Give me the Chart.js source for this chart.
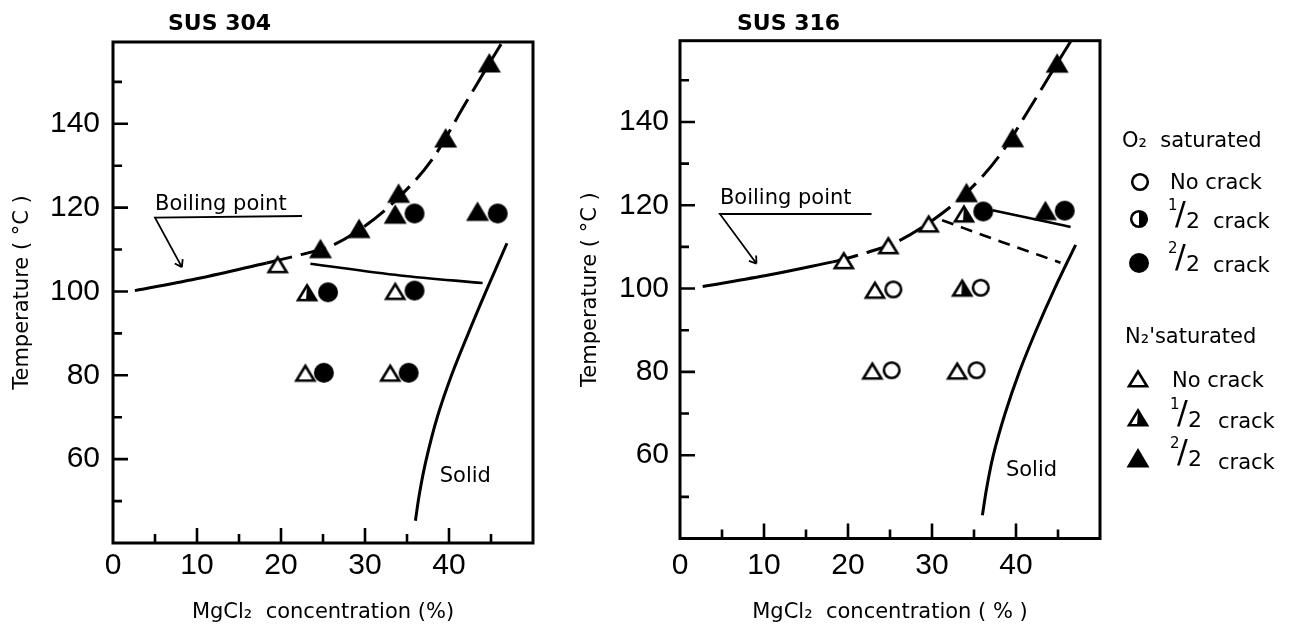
<!DOCTYPE html>
<html>
<head>
<meta charset="utf-8">
<script src="https://cdn.jsdelivr.net/npm/chart.js@4/dist/chart.umd.min.js"></script>
<style>
html, body { margin: 0; padding: 0; background: #fff; }
body { width: 1299px; height: 626px; position: relative; overflow: hidden; font-family: "DejaVu Sans", sans-serif; color: #000; }
#c304 { position: absolute; left: 0; top: 0; }
#c316 { position: absolute; left: 570px; top: 0; }
.lg { position: absolute; font-size: 21px; line-height: 1; white-space: nowrap; transform: translateY(-50%); }
.frac { position: absolute; width: 34px; height: 32px; }
.frac span { position: absolute; line-height: 1; }
</style>
</head>
<body>
<canvas id="c304" width="560" height="626"></canvas>
<canvas id="c316" width="560" height="626"></canvas>
<div id="legend"></div>
<script>
// axis ticks
var xTickLabels = [0, 10, 20, 30, 40];
var yTickLabels = [60, 80, 100, 120, 140];
var xMajorTicks = [10, 20, 30, 40];
var xMinorTicks = [5, 15, 25, 35, 45];
var yMajorTicks = [60, 80, 100, 120, 140];
var yMinorTicks = [50, 70, 90, 110, 130, 150];

// SUS 304 points
var o2Full304 = [{x: 35.9, y: 118.6}, {x: 45.8, y: 118.6}, {x: 25.6, y: 99.8}, {x: 35.9, y: 100.2}, {x: 25.1, y: 80.6}, {x: 35.2, y: 80.6}];
var n2Open304 = [{x: 19.6, y: 106.6}, {x: 33.6, y: 100.2}, {x: 22.9, y: 80.7}, {x: 33, y: 80.7}];
var n2Half304 = [{x: 23.1, y: 99.9}];
var n2Full304 = [{x: 24.7, y: 110.2}, {x: 29.3, y: 115}, {x: 34, y: 123.4}, {x: 33.6, y: 118.4}, {x: 39.6, y: 136.6}, {x: 44.8, y: 154.5}, {x: 43.4, y: 119.1}];
// SUS 304 curves
var boilSolid304 = [{x: 2.6, y: 100.2}, {x: 10.4, y: 103.2}, {x: 18.3, y: 106.8}];
var boilDash304 = [{x: 18.3, y: 106.8}, {x: 22, y: 108.6}, {x: 26, y: 110.9}, {x: 30, y: 115.6}, {x: 34, y: 122.4}, {x: 38, y: 131.5}, {x: 42, y: 145}, {x: 44.8, y: 154.4}, {x: 46.2, y: 159}];
var crackLine304 = [{x: 23.5, y: 106.6}, {x: 34.2, y: 103.8}, {x: 44, y: 102}];
var solidLine304 = [{x: 36, y: 45.3}, {x: 36.5, y: 52}, {x: 37.3, y: 60}, {x: 38.6, y: 70}, {x: 40.3, y: 80}, {x: 42.3, y: 90}, {x: 44.4, y: 100}, {x: 46.9, y: 111.5}];

// SUS 316 points
var o2Open316 = [{x: 25.4, y: 99.8}, {x: 35.8, y: 100.2}, {x: 25.2, y: 80.4}, {x: 35.3, y: 80.4}];
var o2Full316 = [{x: 36.1, y: 118.5}, {x: 45.8, y: 118.7}];
var n2Open316 = [{x: 19.5, y: 106.9}, {x: 24.8, y: 110.5}, {x: 29.6, y: 115.7}, {x: 23.2, y: 99.8}, {x: 22.9, y: 80.4}, {x: 33, y: 80.4}];
var n2Half316 = [{x: 33.8, y: 118.1}, {x: 33.6, y: 100.3}];
var n2Full316 = [{x: 34.1, y: 123}, {x: 39.6, y: 136.2}, {x: 44.9, y: 154.1}, {x: 43.5, y: 118.7}];
// SUS 316 curves
var boilSolid316 = [{x: 2.7, y: 100.5}, {x: 10.7, y: 103.3}, {x: 18.2, y: 106.4}];
var boilDash316 = [{x: 18.2, y: 106.4}, {x: 22, y: 108.5}, {x: 26, y: 111.4}, {x: 30, y: 116.3}, {x: 34, y: 122.8}, {x: 38, y: 131.8}, {x: 42, y: 144.5}, {x: 44.9, y: 154.1}, {x: 46.5, y: 159.3}];
var crackSolid316 = [{x: 37.2, y: 118.8}, {x: 46.5, y: 114.8}];
var crackDash316 = [{x: 31.2, y: 116.4}, {x: 38.3, y: 111.2}, {x: 45.3, y: 106.2}];
var solidLine316 = [{x: 36, y: 45.6}, {x: 36.5, y: 52}, {x: 37.3, y: 60}, {x: 38.7, y: 70}, {x: 40.4, y: 80}, {x: 42.4, y: 90}, {x: 44.6, y: 100}, {x: 47.1, y: 110.5}];

function makeMarker(shape, fill) {
  var c = document.createElement('canvas');
  c.width = 28; c.height = 28;
  var g = c.getContext('2d');
  var cx = 14, cy = 14;
  g.strokeStyle = '#000';
  g.fillStyle = '#000';
  g.lineWidth = 2.6;
  g.beginPath();
  if (shape === 'circle') {
    if (fill === 'full') {
      g.arc(cx, cy, 10, 0, Math.PI * 2);
      g.fill();
    } else {
      g.arc(cx, cy, 7.8, 0, Math.PI * 2);
      g.fillStyle = '#fff';
      g.fill();
      g.stroke();
      if (fill === 'half') {
        g.beginPath();
        g.arc(cx, cy, 7.8, -Math.PI / 2, Math.PI / 2);
        g.closePath();
        g.fillStyle = '#000';
        g.fill();
      }
    }
  } else {
    if (fill === 'full') {
      g.moveTo(cx, cy - 10); g.lineTo(cx + 11.5, cy + 9.5); g.lineTo(cx - 11.5, cy + 9.5);
      g.closePath();
      g.fill();
    } else {
      g.moveTo(cx, cy - 6.5); g.lineTo(cx + 9, cy + 8.2); g.lineTo(cx - 9, cy + 8.2);
      g.closePath();
      g.fillStyle = '#fff';
      g.fill();
      g.stroke();
      if (fill === 'half') {
        g.beginPath();
        g.moveTo(cx, cy - 6.5); g.lineTo(cx + 9, cy + 8.2); g.lineTo(cx - 1, cy + 8.2);
        g.closePath();
        g.fillStyle = '#000';
        g.fill();
      }
    }
  }
  return c;
}

function pts(data, style) {
  return { data: data, pointStyle: style, pointRadius: 10, pointHoverRadius: 10, showLine: false };
}
function curve(data, dash, width, smooth) {
  var ds = { data: data, showLine: true, pointRadius: 0, borderColor: '#000', borderWidth: width || 3,
             borderDash: dash || [], fill: false };
  if (smooth === 'bezier') ds.tension = 0.35; else ds.cubicInterpolationMode = 'monotone';
  return ds;
}

// frame, inward ticks, titles and notes
var framePlugin = {
  id: 'frame',
  afterDraw: function (chart, args, o) {
    var ctx = chart.ctx, a = chart.chartArea, xs = chart.scales.x, ys = chart.scales.y;
    ctx.save();
    ctx.strokeStyle = '#000';
    ctx.lineWidth = 3;
    ctx.strokeRect(a.left, a.top, a.right - a.left, a.bottom - a.top);
    ctx.lineWidth = 2.6;
    ctx.beginPath();
    xMajorTicks.forEach(function (v) { var p = xs.getPixelForValue(v); ctx.moveTo(p, a.bottom); ctx.lineTo(p, a.bottom - 15); });
    xMinorTicks.forEach(function (v) { var p = xs.getPixelForValue(v); ctx.moveTo(p, a.bottom); ctx.lineTo(p, a.bottom - 9); });
    yMajorTicks.forEach(function (v) { var p = ys.getPixelForValue(v); ctx.moveTo(a.left, p); ctx.lineTo(a.left + 15, p); });
    yMinorTicks.forEach(function (v) { var p = ys.getPixelForValue(v); ctx.moveTo(a.left, p); ctx.lineTo(a.left + 9, p); });
    ctx.stroke();

    ctx.fillStyle = '#000';
    ctx.textBaseline = 'middle';
    ctx.textAlign = 'left';
    ctx.font = 'bold 22px "DejaVu Sans"';
    ctx.fillText(o.title, a.left + o.titleDx, 24);

    ctx.font = '21px "DejaVu Sans"';
    ctx.fillText('Boiling point', xs.getPixelForValue(o.bpText.x), ys.getPixelForValue(o.bpText.y));
    ctx.fillText('Solid', xs.getPixelForValue(o.solidText.x), ys.getPixelForValue(o.solidText.y));

    // underline + leader with arrow
    var u0x = xs.getPixelForValue(o.bpUnder[0].x), u0y = ys.getPixelForValue(o.bpUnder[0].y);
    var u1x = xs.getPixelForValue(o.bpUnder[1].x), u1y = ys.getPixelForValue(o.bpUnder[1].y);
    var lx = xs.getPixelForValue(o.bpTip.x), ly = ys.getPixelForValue(o.bpTip.y);
    ctx.lineWidth = 1.8;
    ctx.beginPath();
    ctx.moveTo(u1x, u1y); ctx.lineTo(u0x, u0y); ctx.lineTo(lx, ly);
    var ang = Math.atan2(ly - u0y, lx - u0x);
    ctx.moveTo(lx, ly); ctx.lineTo(lx - 8 * Math.cos(ang - 0.6), ly - 8 * Math.sin(ang - 0.6));
    ctx.moveTo(lx, ly); ctx.lineTo(lx - 8 * Math.cos(ang + 0.6), ly - 8 * Math.sin(ang + 0.6));
    ctx.stroke();
    ctx.restore();
  }
};

function buildChart(id, s) {
  return new Chart(document.getElementById(id), {
    type: 'scatter',
    data: { datasets: s.datasets },
    options: {
      responsive: false,
      animation: false,
      events: [],
      layout: { padding: { left: 0, top: s.top, right: s.right, bottom: 0 } },
      plugins: { legend: { display: false }, tooltip: { enabled: false }, frame: s.notes },
      scales: {
        x: {
          type: 'linear', min: 0, max: 50,
          grid: { display: false, drawTicks: false }, border: { display: false },
          afterBuildTicks: function (sc) { sc.ticks = xTickLabels.map(function (v) { return { value: v }; }); },
          afterFit: function (sc) { sc.height = s.xHeight; },
          ticks: { color: '#000', padding: s.xPad, maxRotation: 0, autoSkip: false, font: { family: 'Liberation Sans', size: 30 } },
          title: { display: true, text: s.xTitle, color: '#000', font: { family: 'DejaVu Sans', size: 21 }, padding: { top: 0, bottom: 1 } }
        },
        y: {
          type: 'linear', min: 40, max: 159.5,
          grid: { display: false, drawTicks: false }, border: { display: false },
          afterBuildTicks: function (sc) { sc.ticks = yTickLabels.map(function (v) { return { value: v }; }); },
          afterFit: function (sc) { sc.width = s.yWidth; },
          ticks: { color: '#000', padding: s.yPad, autoSkip: false, font: { family: 'Liberation Sans', size: 30 } },
          title: { display: true, text: 'Temperature ( °C )', color: '#000', font: { family: 'DejaVu Sans', size: 21 }, padding: { top: s.yTitlePad, bottom: 0 } }
        }
      }
    },
    plugins: [framePlugin]
  });
}

var mOpenC = makeMarker('circle', 'open'), mHalfC = makeMarker('circle', 'half'), mFullC = makeMarker('circle', 'full');
var mOpenT = makeMarker('tri', 'open'), mHalfT = makeMarker('tri', 'half'), mFullT = makeMarker('tri', 'full');

buildChart('c304', {
  top: 42, right: 27, xHeight: 83, yWidth: 113, xPad: 5, yPad: 13, yTitlePad: 10,
  xTitle: 'MgCl₂  concentration (%)',
  notes: { title: 'SUS 304', titleDx: 55, bpText: {x: 5, y: 120.8}, bpUnder: [{x: 5, y: 117.6}, {x: 22.5, y: 118}], bpTip: {x: 8.2, y: 105.8}, solidText: {x: 38.9, y: 55.8} },
  datasets: [
    pts(o2Full304, mFullC), pts(n2Open304, mOpenT), pts(n2Half304, mHalfT), pts(n2Full304, mFullT),
    curve(boilSolid304), curve(boilDash304, [26, 9]), curve(crackLine304, [], 2.6), curve(solidLine304, [], 3, 'bezier')
  ]
});

buildChart('c316', {
  top: 40.7, right: 30, xHeight: 87.5, yWidth: 110, xPad: 9, yPad: 11, yTitlePad: 8,
  xTitle: 'MgCl₂  concentration ( % )',
  notes: { title: 'SUS 316', titleDx: 57, bpText: {x: 4.75, y: 121.7}, bpUnder: [{x: 4.75, y: 117.9}, {x: 22.8, y: 117.9}], bpTip: {x: 9.1, y: 106}, solidText: {x: 38.8, y: 56.3} },
  datasets: [
    pts(o2Open316, mOpenC), pts(o2Full316, mFullC), pts(n2Open316, mOpenT), pts(n2Half316, mHalfT), pts(n2Full316, mFullT),
    curve(boilSolid316), curve(boilDash316, [26, 9]), curve(crackSolid316, [], 2.6), curve(crackDash316, [12, 8], 2.6), curve(solidLine316, [], 3, 'bezier')
  ]
});

// legend
var legend = document.getElementById('legend');
function addText(txt, left, cy) {
  var d = document.createElement('div');
  d.className = 'lg';
  d.style.left = left + 'px';
  d.style.top = cy + 'px';
  d.innerHTML = txt;
  legend.appendChild(d);
}
function addMarker(shape, fill, cx, cy) {
  var c = makeMarker(shape, fill);
  c.style.position = 'absolute';
  c.style.left = (cx - 14) + 'px';
  c.style.top = (cy - 14) + 'px';
  legend.appendChild(c);
}
function addFrac(num, left, top) {
  var d = document.createElement('div');
  d.className = 'frac';
  d.style.left = left + 'px';
  d.style.top = top + 'px';
  d.innerHTML = '<span style="left:0;top:0;font-size:15px">' + num + '</span>' +
                '<span style="left:7px;top:-1px;font-size:32px">/</span>' +
                '<span style="left:18px;top:12px;font-size:22px">2</span>';
  legend.appendChild(d);
}

addText('O₂&nbsp; saturated', 1122, 140);
addMarker('circle', 'open', 1140, 182); addText('No crack', 1170, 182);
addMarker('circle', 'half', 1139, 219); addFrac('1', 1168, 198); addText('crack', 1213, 221);
addMarker('circle', 'full', 1139, 263); addFrac('2', 1168, 241); addText('crack', 1213, 265);
addText("N₂'saturated", 1125, 336);
addMarker('tri', 'open', 1138, 378); addText('No crack', 1172, 380);
addMarker('tri', 'half', 1138, 417); addFrac('1', 1170, 397); addText('crack', 1218, 421);
addMarker('tri', 'full', 1138, 458); addFrac('2', 1170, 436); addText('crack', 1218, 462);
</script>
</body>
</html>
